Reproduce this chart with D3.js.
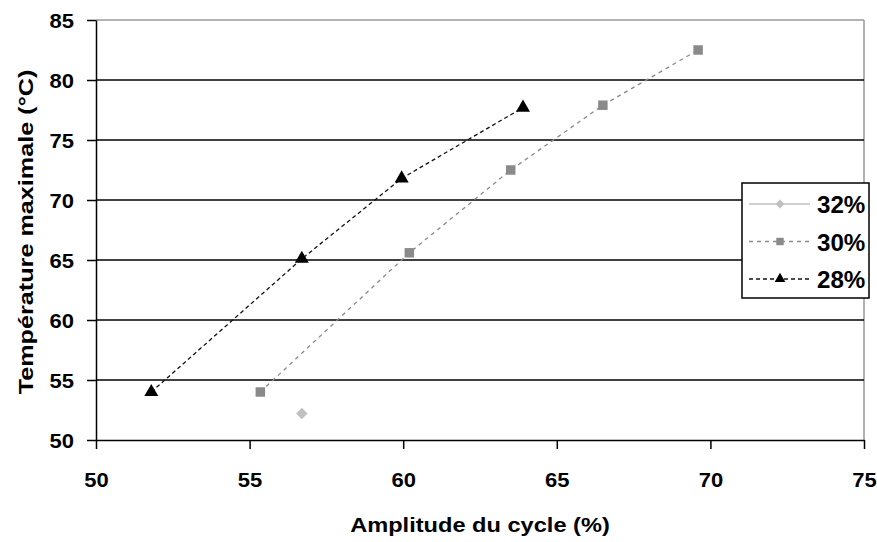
<!DOCTYPE html>
<html>
<head>
<meta charset="utf-8">
<script src="https://cdn.jsdelivr.net/npm/d3@7"></script>
<style>
  body { margin: 0; background: #fff; }
  svg text { font-family: "Liberation Sans", Arial, sans-serif; font-weight: bold; }
</style>
</head>
<body>
<script>
// values
const series = ["32%", "30%", "28%"];
const amp32 = [56.7];
const temp32 = [52.2];
const amp30 = [55.35, 60.2, 63.5, 66.5, 69.6];
const temp30 = [54.0, 65.6, 72.5, 77.9, 82.5];
const amp28 = [51.8, 56.7, 59.95, 63.9];
const temp28 = [54.0, 65.1, 71.8, 77.7];
const xTicks = [50, 55, 60, 65, 70, 75];
const yTicks = [50, 55, 60, 65, 70, 75, 80, 85];

const data = [
  {name: series[0], pts: amp32.map((a, i) => [a, temp32[i]]), line: "#c0c0c0", dash: null, mark: "#c0c0c0", shape: d3.symbolDiamond2},
  {name: series[1], pts: amp30.map((a, i) => [a, temp30[i]]), line: "#8a8a8a", dash: "4,4", mark: "#8a8a8a", shape: d3.symbolSquare},
  {name: series[2], pts: amp28.map((a, i) => [a, temp28[i]]), line: "#111", dash: "4,3", mark: "#000", shape: d3.symbolTriangle}
];

const W = 877, H = 542;
const margin = {top: 20, right: 13, bottom: 102, left: 96};
const width = W - margin.left - margin.right,
      height = H - margin.top - margin.bottom;

// the original lettering is a wide bold sans; widen the glyphs a bit
function stretch(sel, k) {
  sel.each(function() {
    const w = this.getComputedTextLength();
    d3.select(this).attr("textLength", w * k).attr("lengthAdjust", "spacingAndGlyphs");
  });
}

const svg = d3.select("body").append("svg")
    .attr("width", W)
    .attr("height", H);

const g = svg.append("g")
    .attr("transform", `translate(${margin.left},${margin.top})`);

const x = d3.scaleLinear().domain([50, 75]).range([0, width]);
const y = d3.scaleLinear().domain([50, 85]).range([height, 0]);

// plot border (top/right in grey)
g.append("line").attr("x1", 0).attr("x2", width).attr("y1", 0).attr("y2", 0)
    .attr("stroke", "#999").attr("stroke-width", 1.5);
g.append("line").attr("x1", width).attr("x2", width).attr("y1", 0).attr("y2", height)
    .attr("stroke", "#999").attr("stroke-width", 1.5);

// horizontal gridlines
g.selectAll(".grid")
  .data(yTicks.filter(v => v > 50 && v < 85))
  .enter().append("line")
    .attr("x1", 0).attr("x2", width)
    .attr("y1", d => y(d)).attr("y2", d => y(d))
    .attr("stroke", "#000").attr("stroke-width", 1.5);

const xAxis = g.append("g")
    .attr("transform", `translate(0,${height})`)
    .call(d3.axisBottom(x).tickValues(xTicks).tickSize(9).tickSizeOuter(0));
const yAxis = g.append("g")
    .call(d3.axisLeft(y).tickValues(yTicks).tickSize(9).tickPadding(13).tickSizeOuter(0));

[xAxis, yAxis].forEach(a => {
  a.select(".domain").attr("stroke", "#000").attr("stroke-width", 1.5);
  a.selectAll(".tick line").attr("stroke", "#000").attr("stroke-width", 1.5);
  a.selectAll(".tick text").attr("fill", "#000").style("font-size", "20px");
});
xAxis.selectAll(".tick text").attr("dy", null).attr("y", 47);
yAxis.selectAll(".tick text").attr("dy", "0.36em");
stretch(xAxis.selectAll(".tick text"), 1.1);
stretch(yAxis.selectAll(".tick text"), 1.1);

const line = d3.line().x(d => x(d[0])).y(d => y(d[1]));

data.forEach(s => {
  g.append("path")
      .datum(s.pts)
      .attr("fill", "none")
      .attr("stroke", s.line)
      .attr("stroke-width", 1.3)
      .attr("stroke-dasharray", s.dash)
      .attr("d", line);
  g.selectAll(null)
    .data(s.pts)
    .enter().append("path")
      .attr("transform", d => `translate(${x(d[0])},${y(d[1])})`)
      .attr("d", d3.symbol().type(s.shape).size(s.shape === d3.symbolSquare ? 90 : 85))
      .attr("fill", s.mark);
});

// axis titles
svg.append("text")
    .attr("x", 480)
    .attr("y", 532)
    .attr("text-anchor", "middle")
    .style("font-size", "20px")
    .text("Amplitude du cycle (%)")
    .call(stretch, 1.18);

svg.append("text")
    .attr("transform", "translate(33,232) rotate(-90)")
    .attr("text-anchor", "middle")
    .style("font-size", "20px")
    .text("Température maximale (°C)")
    .call(stretch, 1.26);

// legend
const lg = svg.append("g").attr("transform", "translate(742,183)");
lg.append("rect").attr("width", 127).attr("height", 115)
    .attr("fill", "#fff").attr("stroke", "#000").attr("stroke-width", 1.5);
const item = lg.selectAll(".item")
  .data(data)
  .enter().append("g")
    .attr("transform", (d, i) => `translate(0,${21 + i * 37.5})`);
item.append("line")
    .attr("x1", 7).attr("x2", 68)
    .attr("stroke", d => d.line).attr("stroke-width", 1.3)
    .attr("stroke-dasharray", d => d.dash);
item.append("path")
    .attr("transform", "translate(38,0)")
    .attr("d", d => d3.symbol().type(d.shape).size(d.shape === d3.symbolSquare ? 55 : 50)())
    .attr("fill", d => d.mark);
item.append("text")
    .attr("x", 75).attr("y", 9)
    .style("font-size", "23px")
    .text(d => d.name)
    .call(stretch, 1.05);
</script>
</body>
</html>
